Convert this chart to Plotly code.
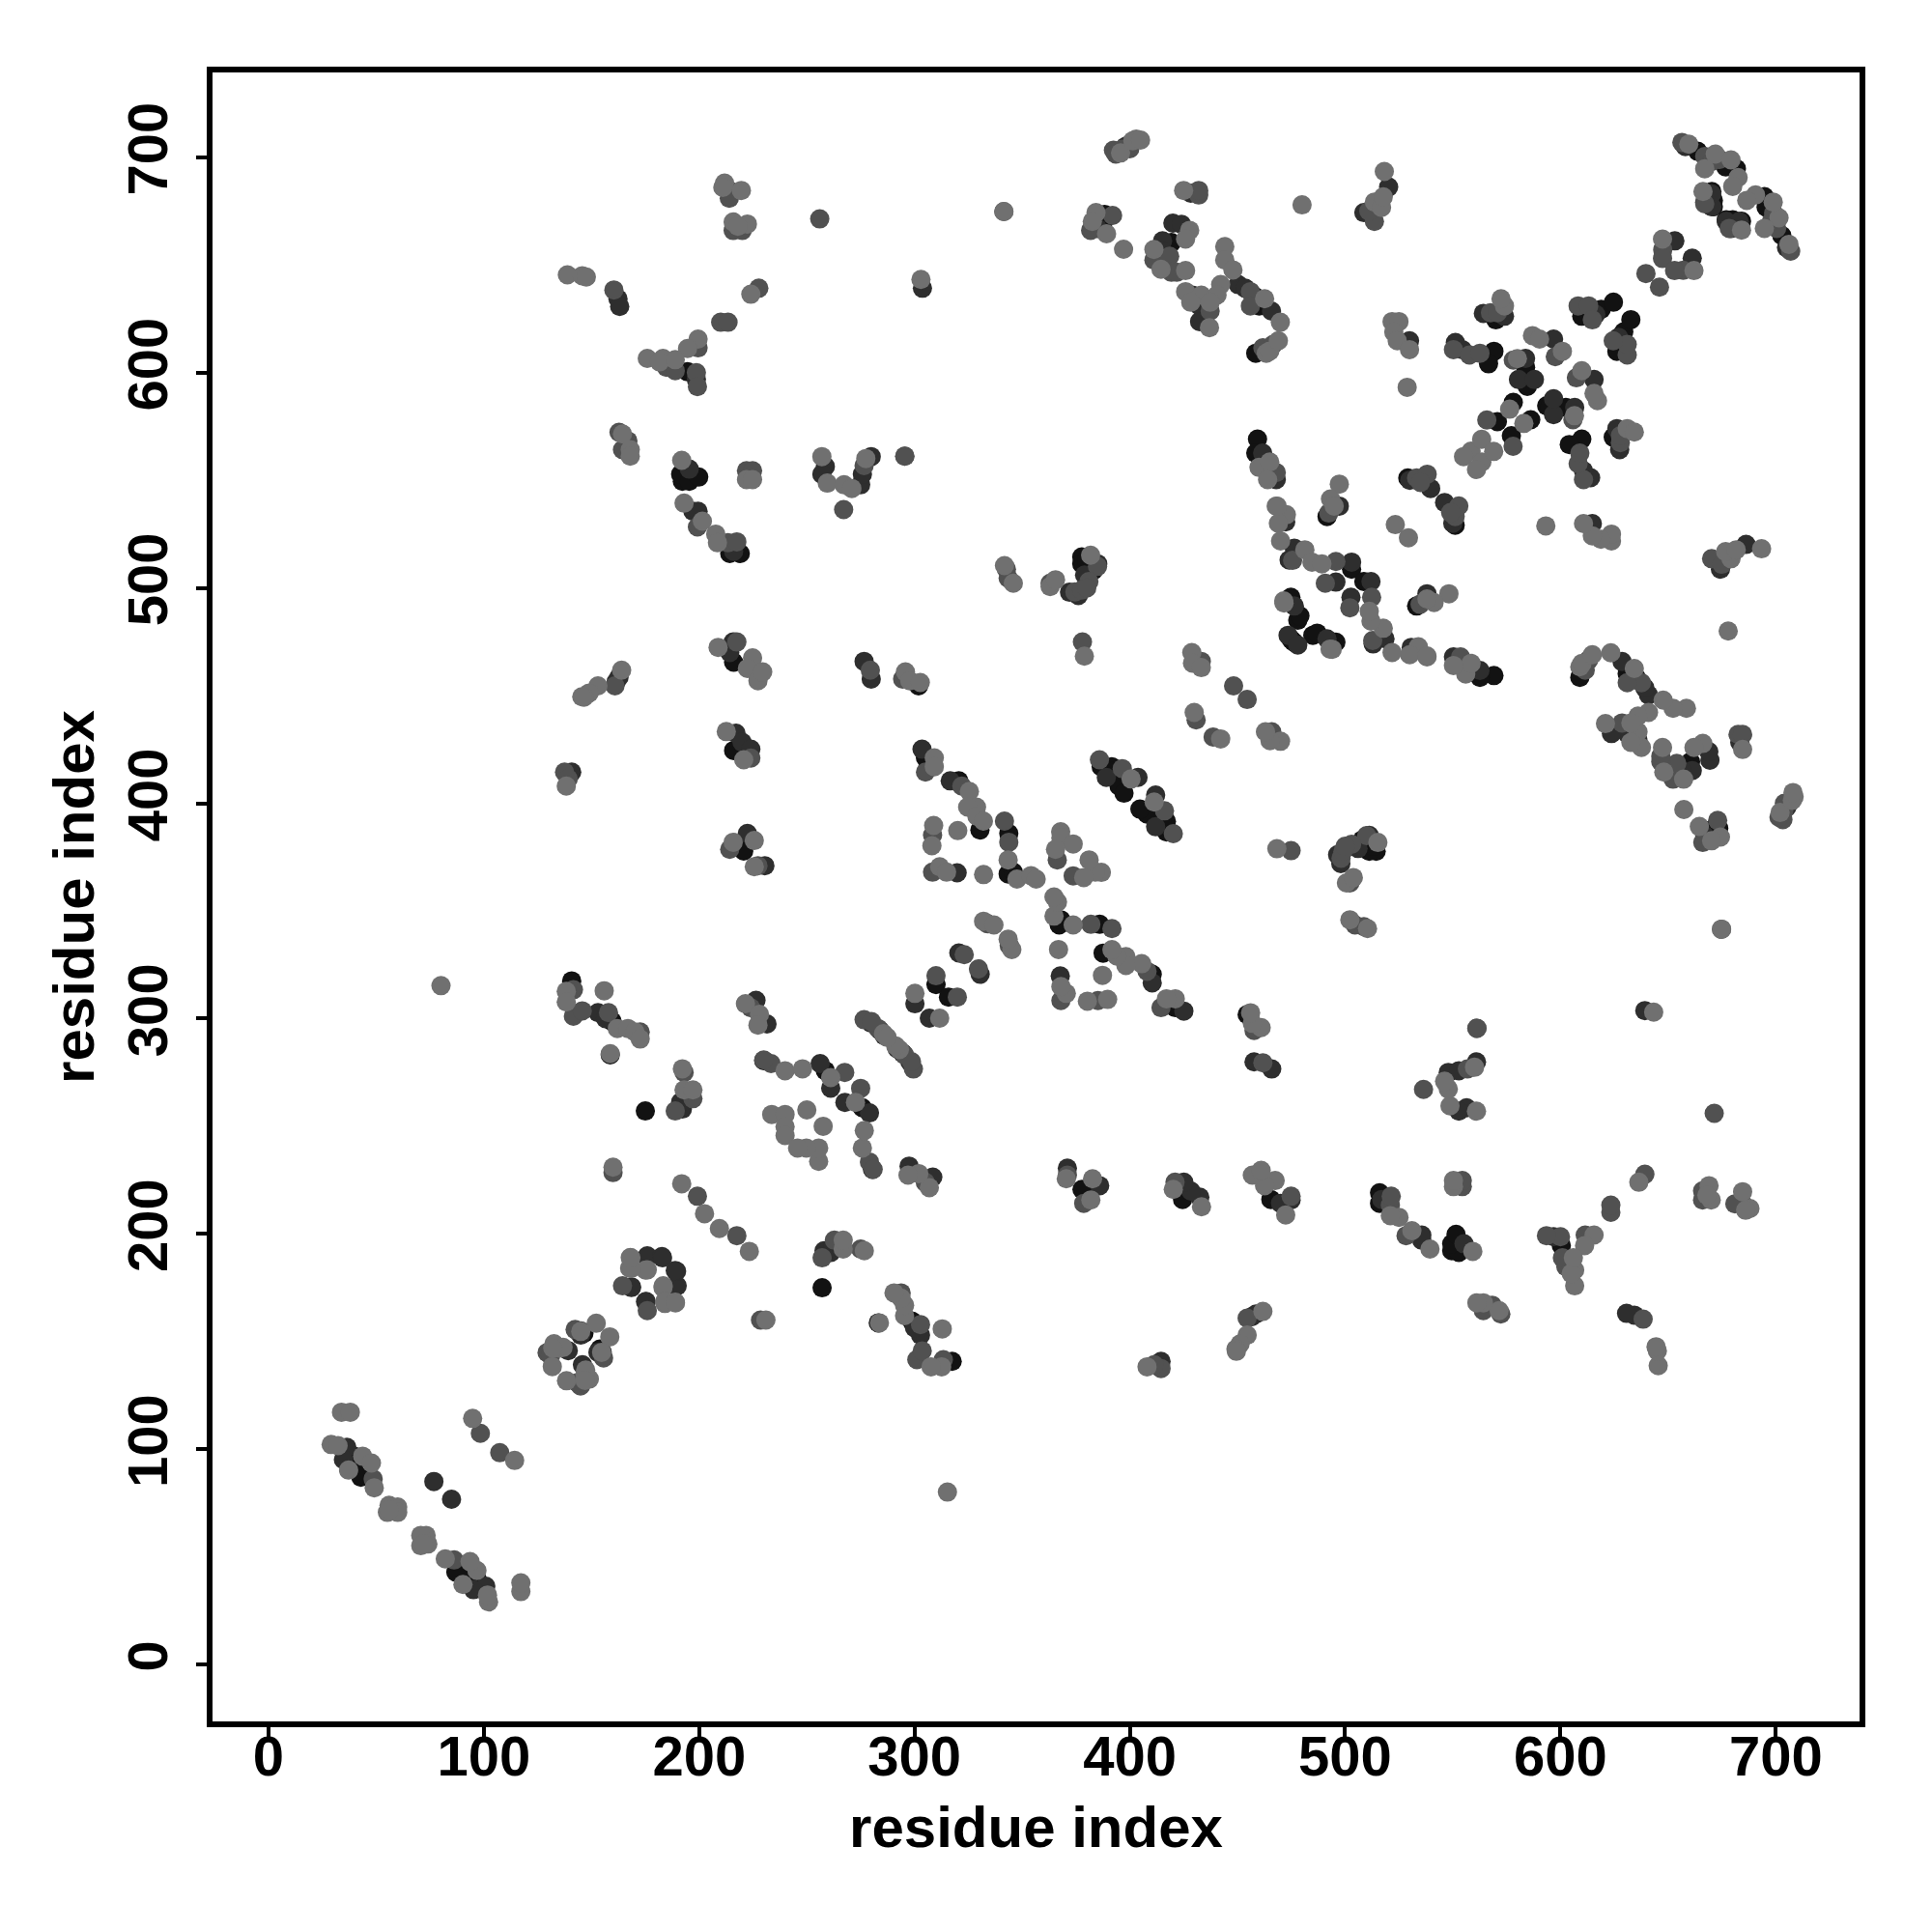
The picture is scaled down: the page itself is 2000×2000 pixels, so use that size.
import plotly.graph_objects as go

# Contact score read from the grey level of each disc
L, M, D, K = 1.0, 0.7, 0.35, 0.08

tick_values = [0, 100, 200, 300, 400, 500, 600, 700]
axis_label = "residue index"

# (i, j, score) residue contacts; the map is symmetric, so each is drawn at (i, j) and (j, i)
contacts_low = [
 (33.9,117.2,L),(38,117.2,L),(29.1,102.2,L),(32.3,101.7,L),(36.4,100.9,D),(34.8,95.2,D),(39.7,96.8,K),(39.7,92,K),(37.2,90.3,L),
 (43.7,96.8,L),(42.9,87,K),(47.8,93.6,L),(48.6,86.2,M),(49.1,82.1,L),(76.8,85,D),(94.8,114.3,L),(98.4,107.4,M),
 (56,74,L),(60,73.2,L),(55.2,70.7,L),(60,70.7,L),(56,72,L),
 (129.4,144.9,M),(131,143.5,M),(131.8,138.4,L),(132.6,149,L),(135,147,L),(139.2,145.8,D),(142.4,155.6,M),(145,155,D),(146.5,153.9,K),
 (152.2,158.5,L),(145,153,D),(145,154.7,L),(136.8,147.3,L),(132,147,L),
 (164.4,175.9,M),(168.5,175.1,D),(168.6,175.4,D),(175.9,189.1,D),(175.9,189.8,D),(182.7,189.5,D),(183,188.9,D),
 (168,189,L),(167.7,184.1,L),(175.9,183.3,L),(175.1,183.2,L),(168.6,184,L),(168.3,188.9,L),
 (191.9,223.3,L),(199.2,217.5,M),(202.5,209.4,L),
]
contacts_left_mid = [
 (160.9,454.5,M),(162.8,458.6,D),(161.5,456.5,D),(164,461.8,L),(153,454.5,L),(148.9,451.2,L),(146.5,449.3,L),(145.5,449.5,L),
 (208.8,472.4,L),(214.2,470,D),(215.8,474.9,D),(217.5,474.9,M),(216,465.5,K),(224.8,467.5,L),(222.4,462.6,L),(227.3,459,M),(227.3,456.9,L),(229.5,461,L),
 (212.6,433.3,L),(217.1,432.5,D),(219.9,428.4,D),(216,424.5,K),(224,425.1,D),(220.7,420.2,L),(224,421,M),
 (137.5,414.5,M),(139.2,411.3,M),(138.3,408,L),(140.8,414.5,D),
 (214.2,378.6,M),(218.3,380.3,K),(215.8,381.9,L),(220.7,377.8,K),(222.4,386,D),(225.6,382.7,L),(225.6,370.5,L),(227.3,371,M),(230.5,371,D),
 (80.1,315.3,L),(140.8,317.5,K),(141.6,313.4,M),(138.3,312.6,L),(138.3,307.7,L),(141.6,301.1,M),(145.7,303.6,M),(155.9,312.9,L),
 (153,302.8,D),(157.9,302.8,M),(156.5,300,D),(159.6,298.7,K),(162,295.4,L),(166.9,295.4,L),(170.2,293.8,L),(172.6,293.8,M),(172.6,290.5,L),
 (158.7,283.2,K),(158.7,283.7,L),(175,257.1,K),
 (192.2,276.7,L),(193,275,M),(191.4,261.2,D),(192.2,258,D),(188.9,257.1,M),(193.8,262,D),(193,266.9,L),(197.1,266.9,L),(197.1,262.8,M),
 (160,228.5,M),(160,231,L),(221.5,306.9,L),(226.4,308.5,D),(224,305,M),(228,302,L),(231.5,297.5,D),(227.3,297,L),(230,280.5,K),
]
contacts_left_top = [
 (211.8,688,L),(211,686,L),(213.4,685,D),(214,681,M),(219.6,684.6,L),(215.8,666,M),(220,666,M),(215.8,670,L),(222.4,669,L),(218,668,L),
 (138.8,645.4,L),(145.7,645,L),(147.6,644.4,L),(160.4,638.4,M),(162.3,634.3,D),(163.1,630.7,D),(224,636.4,L),(227.7,639.2,M),
 (210,623.4,M),(213.4,623.4,M),(199.5,615.6,L),(199.5,611.5,M),(194.6,611.2,L),(175.9,606.6,L),(183.2,606.6,L),(181.6,605,L),(188.9,606,L),
 (184.8,602.5,M),(188.9,600.9,M),(194.6,600.4,K),(198.7,600,M),(198.7,596.8,D),(199.2,593.5,M),
 (162.8,572.3,M),(164.4,571.5,L),(166.9,568.3,M),(164.4,564.2,M),(168,564.2,L),(168,561.2,L),
 (192.2,549.5,K),(191.4,552.8,K),(195.4,549.5,K),(199.8,551.5,K),(191.9,559.3,L),(195.4,555.2,D),
 (222,550.3,L),(224.8,550.3,L),(222,554.4,M),(224.8,554.4,M),
 (193,539.4,L),(197.1,535.6,D),(199.5,535.6,D),(199.2,528.3,M),(201.5,531,L),(207.7,525,L),(208.5,521,L),
 (214.2,516,K),(219.1,516,K),(216,517,D),(213.4,521,M),(217.5,521.4,M),
]
contacts_mid_top = [
 (256,671.4,M),(341.5,674.8,M),(341.5,674.8,L),(303,643.3,L),(303.7,639.2,D),
 (399.8,706,D),(396.5,703.7,M),(392.4,703.3,M),(395.7,702,L),(403,708.5,L),(401.4,707.7,L),(398,705,D),(400,704,M),(393.5,701.5,M),(405,708,L),
 (425,684.6,L),(428.3,683.3,D),(432,682.5,M),(432,684.6,M),(480,677.9,L),
 (388.3,673.5,K),(387.5,669.4,K),(384.3,674.3,L),(382.6,670.2,L),(381.8,666.1,M),(385,667,D),(392,673,M),(389.2,664.5,L),(397.1,657.3,L),
 (420,669.4,D),(424,668.9,D),(415.2,661.2,D),(419.3,660.4,K),(427.8,666.1,L),(425.9,662,L),(411.2,657.2,L),(415.2,656.4,D),(411.2,652.3,M),(415.2,652.3,D),
 (418.5,654,M),(414.5,648,L),(419.3,646.6,M),(421.8,646.6,M),(425.9,647.4,L),
 (444.1,658.5,L),(444.1,652.3,L),(447.9,647.7,L),(442.2,640.9,L),(450.3,640.9,D),(453.6,639.2,D),(456,637.6,M),(458.5,635.1,K),(456,631,M),(460.1,631,K),(462.6,634.3,L),(465.8,628.6,D),(469.9,623.4,L),
 (425.9,637.6,L),(429.1,636,D),(433.2,636,L),(440.5,636,L),(437.3,632.7,L),(432.4,631,D),(437.3,628.6,M),(428.3,632.7,L),(432.4,623.7,D),(437,620.9,L),
 (458.5,609,K),(461.8,611.5,M),(463.4,609,L),(466.6,613.1,M),(465,610,L),(469,614.8,L),
 (257,561,L),(258.6,556.4,D),(257,552.8,D),(259.5,548.7,L),(267.3,547.9,L),(270.9,546.2,L),(275,547.9,D),(275.8,552.8,D),(277.4,560.1,L),(276.6,556.8,M),(279.9,561,D),
 (267.1,536.4,M),(295.5,561.2,M),(295.5,561.2,M),
 (341.8,510.4,L),(342.7,508.7,M),(343.5,504.6,M),(345.9,502.2,L),(363,500.6,L),(363,502.2,M),(365.5,503.8,L),
 (377.7,514.4,K),(377.7,511.2,K),(381.8,515.2,L),(385.1,511.2,D),(385,510,M),(381,503,M),(374.5,498.1,M),(376.1,496.5,D),(377.7,499,M),
 (380,513,K),(383,508,K),(379,506,D),(372,498,D),(380,500,M),
 (459.3,569.1,K),(458.5,562.6,K),(461.7,562.6,D),(460,556,L),(465,558.5,L),(468,550.3,D),(464,550.3,L),(468,553.6,M),
 (468,538,L),(472.4,530.7,D),(472.7,534,L),(469,530,L),(470,521.8,L),(476.4,518.5,D),(481.3,517.7,L),(475.6,512.8,M),(474,513,D),(484.6,512,L),
 (474.8,495.7,K),(471.5,494,L),(476.4,491.6,D),(478,485,K),(479,487,K),(473.5,478,D),(475,476,K),(471.6,493,L),(468.4,538,L),
]
contacts_center = [
 (378,474.9,M),(378.9,468.3,L),(276.6,465.9,D),(279.5,461.8,M),(279.9,457.7,D),(294.5,457.7,M),(301.9,454.5,K),(295.8,461,L),(297.8,456.9,L),(302.7,456.1,L),
 (428.8,470,L),(429.1,465.1,L),(433.2,465.9,M),(433.2,463,L),(448.2,454.5,M),(429.9,442.2,L),(430.8,438.7,M),
 (303.5,425.1,D),(305.1,421.1,K),(309.2,421.1,L),(309.2,417,L),(305.1,414.5,M),
 (316.6,410.4,D),(320.6,410.4,K),(322,408,M),(325.5,405.5,L),(328.8,398.2,L),(324.7,398.2,L),(330.4,387.6,K),(329,394,L),(332,391.7,L),
 (341.8,391.7,M),(343.8,386,K),(343.8,381.9,M),(343.5,373.7,L),(343.5,367.2,K),(345.9,368,K),
 (308.4,385.2,M),(308.9,389.7,L),(308.1,380.3,L),(320.1,387.3,L),(308.4,368,M),(311.7,370.5,L),(314.9,368,L),(319.8,367.7,D),(332.1,366.9,L),
 (347.6,364.8,L),(354.1,366.4,L),(356.5,364.8,L),
 (367.9,386.8,L),(368,384,L),(373.7,381.1,L),(365.5,378.6,L),(366.3,373.7,M),
 (385.9,420.2,M),(386.7,417,K),(391.6,417,K),(396.5,416.1,M),(403.8,412,D),(389.1,412,D),(393.2,412,K),(393,415,K),(395,408,K),(400.6,411.3,L),(397.3,404.7,K),
 (276.6,299.5,M),(279.9,297.9,D),(283.1,295.4,M),(285.6,293,L),(291.3,287.3,L),(294.5,284,K),(292,286,D),(298.6,280,M),
 (300.2,306.9,D),(300.2,311.7,L),(310,315.8,K),(310,319.9,M),(320.6,330.5,D),(323.1,329.7,M),(332.1,345.2,L),(336.9,343.5,L),(334,344,M),
 (233.4,279.1,M),(230,280.8,M),(239.9,275.8,L),(248,276.7,L),(256.2,279.1,D),(258.6,275.8,K),(261.1,272.6,L),(267.6,275,M),(261.1,267.7,D),
 (233.7,255.5,L),(239.9,255.5,L),(239.9,249.8,L),(250,257.6,L),(239.9,245.7,L),
]
contacts_right_top = [
 (508.7,674.3,D),(513.6,670.2,M),(511,675,M),(513.6,679.2,L),(516.9,676.7,L),(517.7,681.6,L),(520.2,686.2,D),(518.2,693.4,L),
 (658,705,D),(656.4,706.9,M),(659.6,706.1,L),(663.7,702.8,K),(667,700.4,M),(670.3,698,M),(674,699,M),(671.9,701.5,L),(667,694.7,L),
 (676.8,695.5,K),(681.7,694.7,K),(679.2,698.8,L),(682.5,690.6,L),(680,686.5,L),
 (666.2,684.1,L),(670.3,684.1,K),(671,680,K),(667,679.2,D),(670.3,677,D),(670.2,683,D),(671,677,K),(667,678.4,M),
 (653.1,661.2,D),(647.4,662,L),(647.5,657,M),(647.4,653,M),(639.7,646,M),
 (564.2,627.5,D),(567.5,627.8,M),(570,624.5,K),(570.7,627.8,M),(574,626.2,D),(574,631,L),(572.4,634.3,L),
 (608.2,631,M),(613.1,631,M),(609.9,626.2,K),(614.8,624.5,M),(616.4,627,D),(618.9,629.4,K),(624.6,632.7,K),
 (551.2,614,D),(550.3,610.7,M),(554.4,610.7,D),(557.7,608.2,M),(562.6,609,M),(566.6,608.2,K),(569.1,609.9,K),(566.6,604.1,K),
 (587,617.2,L),(590.3,615.6,L),(596.8,615.6,D),(597.6,607.4,M),(600.9,609.9,L),(578.1,605.8,M),(580,606.5,L),(583.8,606.6,D),(583.8,602.5,K),
 (580.5,596.8,D),(587.9,596.8,D),(584.6,593.6,K),(584,595,K),(578.1,586.2,K),(576.4,583,L),(565.8,578,M),(570.7,577.2,K),
 (558.5,563.5,L),(563.4,569,L),(555,561,L),
 (529.1,551.1,K),(533.2,551.1,M),(538.1,552.8,M),(539.7,546.2,D),(530,550,D),(535,549,M),(523.3,529.4,L),
 (497.3,548.2,L),(497.3,538,D),(492.4,534.8,M),(493.2,541.3,L),(494.9,538,L),(491.6,533.2,K),
 (528.8,593.2,L),(521.8,623.7,L),(525,623.7,L),(522.6,618.8,L),(524.2,614.8,L),(529.9,614.8,D),(529.9,610.7,L),
 (489.2,511.2,L),(495.7,512.3,M),(503,512,D),(503,508.7,K),(490.8,502.2,M),(495.7,502.7,D),
]

contacts = (contacts_low + contacts_left_mid + contacts_left_top
            + contacts_mid_top + contacts_center + contacts_right_top)

# Darkest discs go underneath, as in the reference where light discs cap the stacks
contacts = sorted(contacts, key=lambda c: c[2])

xs, ys, scores = [], [], []
for i, j, s in contacts:
    xs += [i, j]
    ys += [j, i]
    scores += [s, s]

fig = go.Figure(go.Scatter(
    x=xs, y=ys, mode="markers", hoverinfo="skip",
    marker=dict(size=20, color=scores, cmin=0, cmax=1,
                colorscale=[[0, "#0a0a0a"], [1, "#707070"]],
                showscale=False, line=dict(width=0)),
))

font_family = "Liberation Sans"
axis_style = dict(
    tickmode="array", tickvals=tick_values,
    showgrid=False, zeroline=False, showline=True, mirror=True,
    linecolor="black", linewidth=6,
    ticks="outside", ticklen=11, tickwidth=4, tickcolor="black",
    tickfont=dict(family=font_family, size=58, color="black", weight=700),
)
title_font = dict(family=font_family, size=60, color="black", weight=700)
fig.update_layout(
    width=2000, height=2000, autosize=False,
    paper_bgcolor="white", plot_bgcolor="white", showlegend=False,
    margin=dict(l=212, r=83, t=67, b=226),
    xaxis=dict(**axis_style, range=[-26.0, 738.9], ticklabelstandoff=-31,
               title=dict(text=axis_label, standoff=23, font=title_font)),
    yaxis=dict(**axis_style, range=[-26.4, 739.4], tickangle=-90, ticklabelstandoff=7,
               title=dict(text=axis_label, standoff=5, font=title_font)),
)
fig.write_html("out.html")
